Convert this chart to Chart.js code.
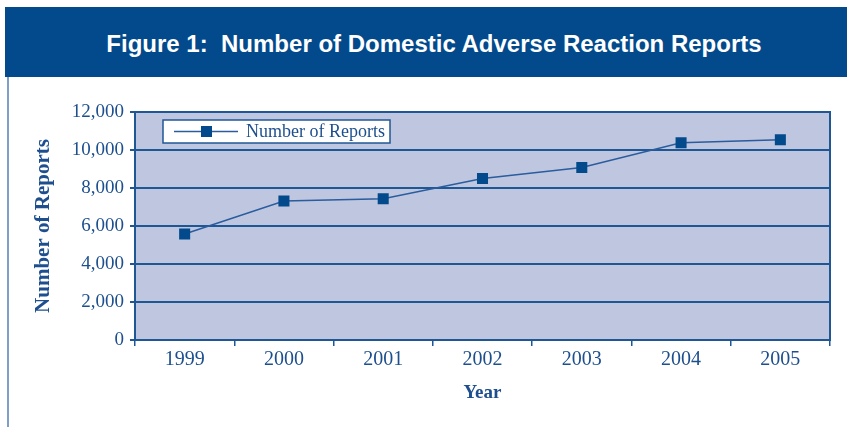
<!DOCTYPE html>
<html>
<head>
<meta charset="utf-8">
<script src="https://cdn.jsdelivr.net/npm/chart.js@4.4.0/dist/chart.umd.min.js"></script>
<style>
    body { margin: 0; background: #fff; }
    #wrap { position: relative; width: 847px; height: 427px; overflow: hidden; }
    #banner {
        position: absolute; left: 5px; top: 7px; width: 842px; height: 70px;
        background: #034a8c; color: #fff;
        font: bold 24px "Liberation Sans", Arial, sans-serif;
        line-height: 74px; text-align: center; text-indent: 16px;
        white-space: pre;
    }
    #rule { position: absolute; left: 7px; top: 77px; width: 2px; height: 350px; background: #7f9fca; }
    #reportsChart { position: absolute; left: 0; top: 0; }
</style>
</head>
<body>
<div id="wrap">
    <div id="banner">Figure 1:  Number of Domestic Adverse Reaction Reports</div>
    <div id="rule"></div>
    <canvas id="reportsChart" width="847" height="427"></canvas>
</div>
<script>
const years = ['1999', '2000', '2001', '2002', '2003', '2004', '2005'];
const reports = [5580, 7320, 7430, 8500, 9080, 10380, 10540];
const seriesName = 'Number of Reports';
const yTicks = [0, 2000, 4000, 6000, 8000, 10000, 12000];

const navy = '#034a8c';
const inkBlue = '#1d4f8e';
const gridBlue = '#1f5795';

// fill plot background and box it in
const plotFrame = {
    id: 'plotFrame',
    beforeDraw(chart) {
        const a = chart.chartArea;
        const ctx = chart.ctx;
        ctx.save();
        ctx.fillStyle = '#bec6e0';
        ctx.fillRect(a.left, a.top, a.right - a.left, a.bottom - a.top);
        ctx.restore();
    },
    afterDraw(chart) {
        const a = chart.chartArea;
        const ctx = chart.ctx;
        ctx.save();
        ctx.strokeStyle = gridBlue;
        ctx.lineWidth = 2;
        ctx.strokeRect(a.left, a.top, a.right - a.left, a.bottom - a.top);
        ctx.restore();
    }
};

// boxed legend inside the plot, line + square marker
const boxLegend = {
    id: 'boxLegend',
    afterDraw(chart) {
        const ds = chart.data.datasets[0];
        const a = chart.chartArea;
        const ctx = chart.ctx;
        const x = a.left + 28, y = a.top + 8, w = 227, h = 23;
        ctx.save();
        ctx.fillStyle = '#fff';
        ctx.fillRect(x, y, w, h);
        ctx.strokeStyle = gridBlue;
        ctx.lineWidth = 1.5;
        ctx.strokeRect(x, y, w, h);
        ctx.strokeStyle = ds.borderColor;
        ctx.lineWidth = ds.borderWidth;
        ctx.beginPath();
        ctx.moveTo(x + 11, y + h / 2);
        ctx.lineTo(x + 75, y + h / 2);
        ctx.stroke();
        ctx.fillStyle = ds.pointBackgroundColor;
        ctx.fillRect(x + 38, y + h / 2 - 5.5, 11, 11);
        ctx.fillStyle = inkBlue;
        ctx.font = '18px "Liberation Serif", serif';
        ctx.textBaseline = 'middle';
        ctx.fillText(ds.label, x + 83, y + h / 2 + 1);
        ctx.restore();
    }
};

new Chart(document.getElementById('reportsChart'), {
    type: 'line',
    data: {
        labels: years,
        datasets: [{
            label: seriesName,
            data: reports,
            borderColor: '#2a5c9e',
            borderWidth: 1.5,
            tension: 0,
            pointStyle: 'rect',
            pointRadius: 7.8,
            pointBackgroundColor: navy,
            pointBorderWidth: 0
        }]
    },
    options: {
        responsive: false,
        animation: false,
        layout: { padding: { left: 10, right: 17, top: 112, bottom: 0 } },
        plugins: {
            legend: { display: false },
            tooltip: { enabled: false }
        },
        scales: {
            x: {
                offset: true,
                grid: { offset: true, drawOnChartArea: false, tickLength: 6, color: gridBlue, lineWidth: 1.5 },
                border: { color: gridBlue, width: 2 },
                ticks: { color: inkBlue, padding: 2, font: { family: '"Liberation Serif", serif', size: 20 } },
                title: {
                    display: true, text: 'Year', color: inkBlue,
                    font: { family: '"Liberation Serif", serif', size: 19, weight: 'bold' },
                    padding: { top: 0, bottom: 23 }
                },
                afterFit(scale) { scale.height = 87; }
            },
            y: {
                min: 0,
                max: 12000,
                afterBuildTicks(scale) { scale.ticks = yTicks.map(v => ({ value: v })); },
                grid: { color: gridBlue, lineWidth: 2, tickLength: 5 },
                border: { color: gridBlue, width: 2 },
                ticks: {
                    color: inkBlue, padding: 6,
                    font: { family: '"Liberation Serif", serif', size: 19 },
                    callback: v => v.toLocaleString('en-US')
                },
                title: {
                    display: true, text: 'Number of Reports', color: inkBlue,
                    font: { family: '"Liberation Serif", serif', size: 21, weight: 'bold' },
                    padding: { top: 21, bottom: 0 }
                },
                afterFit(scale) { scale.width = 125; }
            }
        }
    },
    plugins: [plotFrame, boxLegend]
});
</script>
</body>
</html>
